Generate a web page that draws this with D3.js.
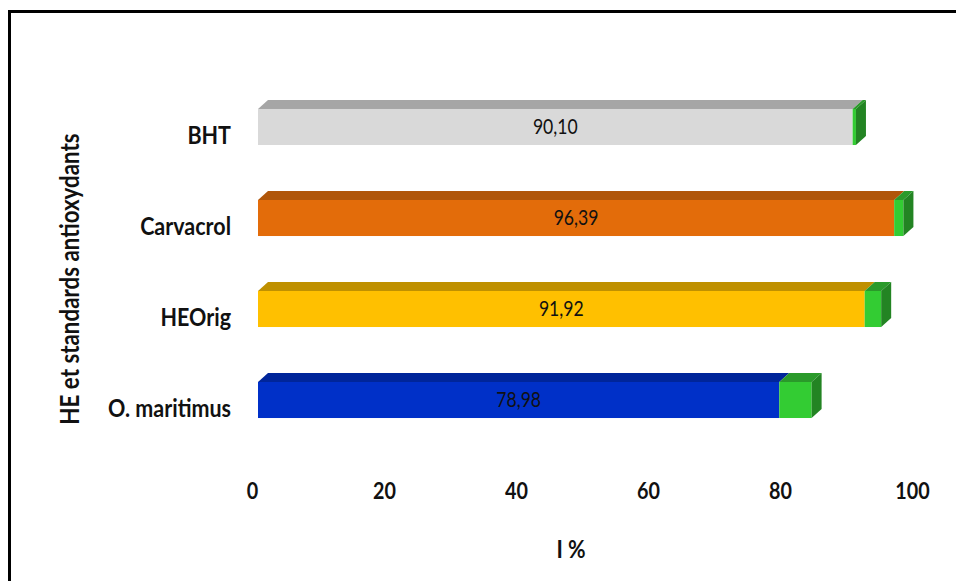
<!DOCTYPE html>
<html><head><meta charset="utf-8">
<script src="https://cdn.jsdelivr.net/npm/d3@7"></script>
<style>body{margin:0;background:#fff}svg{display:block}</style>
</head><body>
<svg id="c" width="956" height="581"></svg>
<script>
const categories = ["BHT", "Carvacrol", "HEOrig", "O. maritimus"];
const values = [90.10, 96.39, 91.92, 78.98];
const errors = [0.5, 1.4, 2.5, 4.9];
const labels = ["90,10", "96,39", "91,92", "78,98"];
const ticks = [0, 20, 40, 60, 80, 100];
const frontColors = ["#d9d9d9", "#e36c0a", "#ffc000", "#0030c8"];
const topColors = ["#a6a6a6", "#b0560a", "#bf9000", "#00259a"];
const errFront = "#33cc33", errTop = "#2a9a2a", errSide = "#238423";

const svg = d3.select("#c");
const FONT = "Lato, 'Open Sans', sans-serif";
const SX = 0.86;
const DX = 10, DY = 9;

function txt(parent, x, y, s, size, weight, anchor, rot) {
  return parent.append("text")
    .attr("transform", `translate(${x},${y})` + (rot ? ` rotate(${rot})` : "") + ` scale(${SX},1)`)
    .attr("dy", "0.36em").attr("text-anchor", anchor)
    .attr("font-family", FONT).attr("font-size", size).attr("font-weight", weight)
    .attr("fill", "#111").text(s);
}

svg.append("rect").attr("x", 9.5).attr("y", 11.5).attr("width", 1000).attr("height", 1000)
  .attr("fill", "none").attr("stroke", "#000").attr("stroke-width", 3);

const x = d3.scaleLinear().domain([0, 100]).range([258, 918]);
const y = d3.scaleBand().domain(categories).range([81.5, 445.5]).paddingInner(0.604).paddingOuter(0.302);
const bw = y.bandwidth();

const para = (x0, x1, yt) => `M${x0},${yt} L${x0 + DX},${yt - DY} L${x1 + DX},${yt - DY} L${x1},${yt} Z`;

const g = svg.append("g");
categories.forEach((c, i) => {
  const yt = y(c), x0 = x(0), xv = x(values[i]), xe = x(values[i] + errors[i]);
  g.append("path").attr("d", para(x0, xv, yt)).attr("fill", topColors[i]);
  g.append("path").attr("d", para(xv, xe, yt)).attr("fill", errTop);
  g.append("rect").attr("x", x0).attr("y", yt).attr("width", xv - x0).attr("height", bw).attr("fill", frontColors[i]);
  g.append("rect").attr("x", xv).attr("y", yt).attr("width", xe - xv).attr("height", bw).attr("fill", errFront);
  g.append("path").attr("d", `M${xe},${yt} L${xe + DX},${yt - DY} L${xe + DX},${yt + bw - DY} L${xe},${yt + bw} Z`).attr("fill", errSide);
  txt(g, (x0 + xv) / 2, yt + bw / 2, labels[i], 20.5, "normal", "middle");
  txt(svg, 231, yt + bw / 2 + 8, c, 25, "bold", "end");
});

const ax = svg.append("g").attr("transform", "translate(-6,491)")
  .call(d3.axisBottom(x).tickValues(ticks).tickSize(0).tickFormat(d3.format("d")));
ax.select(".domain").remove();
ax.selectAll(".tick text").attr("y", 0).attr("dy", "0.36em")
  .attr("transform", `scale(${SX},1)`)
  .attr("font-family", FONT).attr("font-size", 23).attr("font-weight", "bold").attr("fill", "#111");

txt(svg, 571, 549, "I %", 25, "bold", "middle");
txt(svg, 70, 279, "HE et standards antioxydants", 26, "bold", "middle", -90);
</script>
</body></html>
